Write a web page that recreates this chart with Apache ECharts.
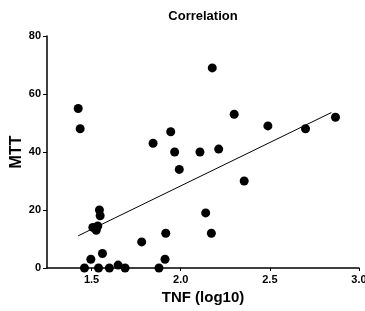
<!DOCTYPE html>
<html>
<head>
<meta charset="utf-8">
<script src="https://cdn.jsdelivr.net/npm/echarts@6/dist/echarts.min.js"></script>
<style>
  html, body { margin: 0; padding: 0; background: #fff; }
  #chart { width: 365px; height: 311px; }
</style>
</head>
<body>
<div id="chart"></div>
<script>
// TNF (log10) vs MTT
const tnf = [1.425, 1.436, 1.460, 1.496, 1.507, 1.526, 1.535, 1.539, 1.544, 1.548, 1.561,
  1.600, 1.649, 1.688, 1.781, 1.845, 1.878, 1.912, 1.916, 1.944, 1.966, 1.992,
  2.108, 2.140, 2.172, 2.177, 2.213, 2.300, 2.356, 2.489, 2.700, 2.868];
const mtt = [55, 48, 0, 3, 14, 13, 14.5, 0, 20, 18, 5,
  0, 1, 0, 9, 43, 0, 3, 12, 47, 40, 34,
  40, 19, 12, 69, 41, 53, 30, 49, 48, 52];
// fitted line ends
const fitX = [1.425, 2.845];
const fitY = [11.1, 53.6];
const xTicks = [1.5, 2.0, 2.5, 3.0];

const font = 'Liberation Sans, Arial, sans-serif';
const chart = echarts.init(document.getElementById('chart'));

chart.setOption({
  animation: false,
  title: {
    text: 'Correlation',
    left: 198, top: 5, textAlign: 'center',
    textStyle: { fontFamily: font, fontSize: 13, fontWeight: 'bold', color: '#000' }
  },
  grid: { left: 47, right: 6, top: 36, bottom: 43, outerBoundsMode: 'none', containLabel: false },
  xAxis: {
    type: 'value', min: 1.25, max: 3.0,
    name: 'TNF (log10)', nameLocation: 'middle', nameGap: 22, nameMoveOverlap: false,
    nameTextStyle: { fontFamily: font, fontSize: 15, fontWeight: 'bold', color: '#000' },
    axisLine: { onZero: false, lineStyle: { color: '#000', width: 1.5 } },
    axisTick: { customValues: xTicks, length: 3, lineStyle: { color: '#000' } },
    axisLabel: {
      customValues: xTicks, margin: 6,
      formatter: v => v.toFixed(1),
      fontFamily: font, fontSize: 11, fontWeight: 'bold', color: '#000'
    },
    splitLine: { show: false }
  },
  yAxis: {
    type: 'value', min: 0, max: 80, interval: 20,
    name: 'MTT', nameLocation: 'middle', nameGap: 22, nameMoveOverlap: false,
    nameTextStyle: { fontFamily: font, fontSize: 16, fontWeight: 'bold', color: '#000' },
    axisLine: { show: true, lineStyle: { color: '#000', width: 1.5 } },
    axisTick: { show: true, length: 4, lineStyle: { color: '#000' } },
    axisLabel: { margin: 6, fontFamily: font, fontSize: 11, fontWeight: 'bold', color: '#000' },
    splitLine: { show: false }
  },
  series: [
    {
      type: 'scatter',
      data: tnf.map((x, i) => [x, mtt[i]]),
      symbolSize: 9,
      clip: false,
      itemStyle: { color: '#000', opacity: 1 },
      z: 3
    },
    {
      type: 'line',
      data: fitX.map((x, i) => [x, fitY[i]]),
      symbol: 'none',
      lineStyle: { color: '#000', width: 1 },
      z: 2
    }
  ]
});
</script>
</body>
</html>
